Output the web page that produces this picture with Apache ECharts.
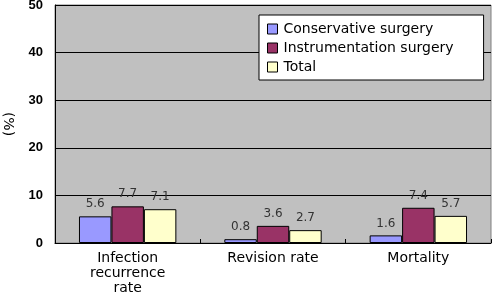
<!DOCTYPE html>
<html><head><meta charset="utf-8">
<script src="https://cdn.jsdelivr.net/npm/echarts@6/dist/echarts.min.js"></script>
<style>html,body{margin:0;padding:0;background:#fff}#c{width:493px;height:294px}</style>
</head><body><div id="c"></div>
<script>
const categories = ['Infection\nrecurrence\nrate', 'Revision rate', 'Mortality'];
const seriesNames = ['Conservative surgery', 'Instrumentation surgery', 'Total'];
const conservative = [5.6, 0.8, 1.6];
const instrumentation = [7.7, 3.6, 7.4];
const total = [7.1, 2.7, 5.7];
const yTicks = [0, 10, 20, 30, 40, 50];

const colors = ['#9999ff', '#993366', '#ffffcc'];
const values = [conservative, instrumentation, total];
const chart = echarts.init(document.getElementById('c'), null, {renderer: 'canvas'});
chart.setOption({
  animation: false,
  backgroundColor: '#fff',
  grid: {left: 55, right: 2, top: 5, bottom: 51, containLabel: false, outerBoundsMode: 'none', show: true, backgroundColor: '#c0c0c0', borderColor: '#808080', borderWidth: 1},
  legend: {
    orient: 'vertical', left: 259, top: 15,
    padding: [7, 30, 6, 8], itemGap: 5, itemWidth: 10, itemHeight: 10,
    backgroundColor: '#fff', borderColor: '#000', borderWidth: 1,
    icon: 'rect',
    textStyle: {fontFamily: 'DejaVu Sans', fontSize: 14, color: '#000', padding: [0, 0, 0, 1]},
    data: seriesNames.map((n, i) => ({name: n, itemStyle: {borderColor: '#000', borderWidth: 1}}))
  },
  xAxis: {
    type: 'category', data: categories,
    axisLine: {lineStyle: {color: '#000', width: 1}},
    axisTick: {show: true, inside: true, length: 4, lineStyle: {color: '#000'}},
    axisLabel: {fontFamily: 'DejaVu Sans', fontSize: 14, color: '#000', lineHeight: 15, margin: 8}
  },
  yAxis: {
    type: 'value', min: yTicks[0], max: yTicks[yTicks.length - 1], interval: 10,
    name: '(%)', nameLocation: 'middle', nameRotate: -90, nameGap: 40,
    nameTextStyle: {fontFamily: 'DejaVu Sans', fontSize: 14, color: '#000'},
    axisLine: {show: true, lineStyle: {color: '#000', width: 1}},
    axisTick: {show: false},
    splitLine: {lineStyle: {color: '#000', width: 1}},
    axisLabel: {fontFamily: 'Liberation Sans', fontSize: 13, fontWeight: 'bold', color: '#000', margin: 12}
  },
  series: seriesNames.map((n, i) => ({
    name: n, type: 'bar', data: values[i],
    barGap: '0%', barCategoryGap: '33%',
    itemStyle: {color: colors[i], borderColor: '#000', borderWidth: 1},
    label: {show: true, position: 'top', distance: 6, fontFamily: 'DejaVu Sans', fontSize: 12, color: '#333'}
  }))
});
</script></body></html>
